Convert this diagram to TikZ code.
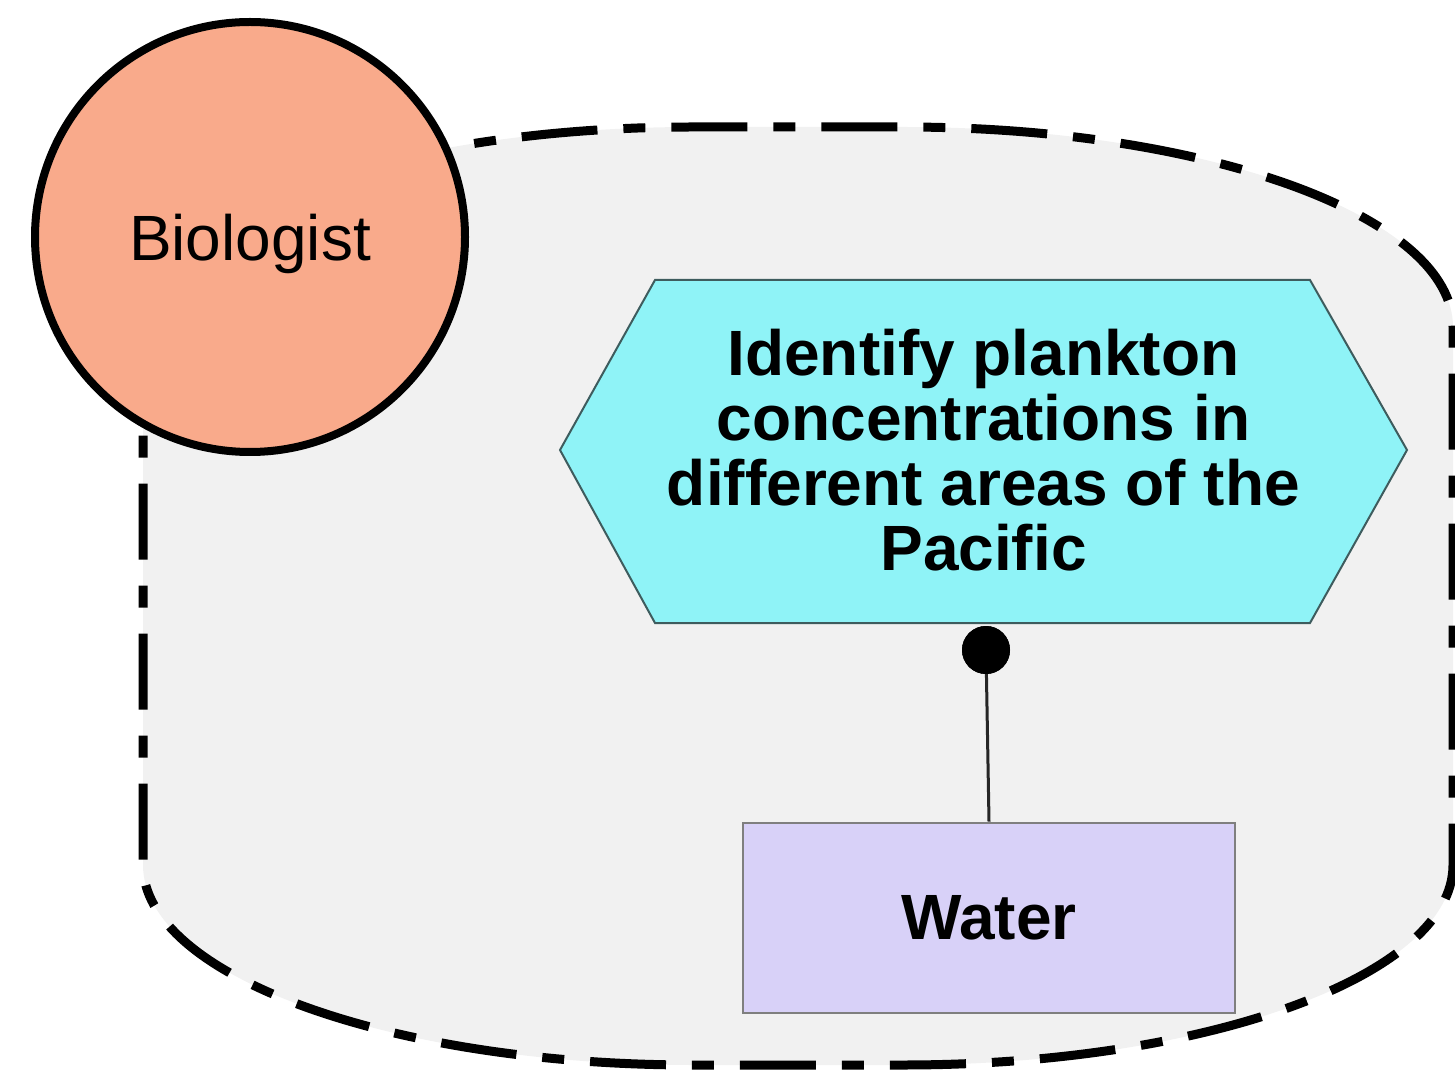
\documentclass[tikz,border=0pt]{standalone}
\usepackage{fontspec}
\setmainfont{Liberation Sans}
\definecolor{poolfill}{HTML}{F1F1F1}
\definecolor{rolefill}{HTML}{F9AA8B}
\definecolor{taskfill}{HTML}{8FF3F7}
\definecolor{taskline}{HTML}{3E5C5E}
\definecolor{itemfill}{HTML}{D8D1F8}
\definecolor{itemline}{HTML}{7F7F7F}
\begin{document}
\begin{tikzpicture}[x=0.5pt,y=0.5pt,
  pool/.style={draw=black, fill=poolfill, line width=4.5pt,
    dash pattern=on 38pt off 13pt on 11pt off 13pt},
  role/.style={circle, draw=black, fill=rolefill, line width=4pt,
    minimum size=215pt, inner sep=0pt, outer sep=0pt, text depth=0pt,
    font=\fontsize{32}{34}\selectfont},
  tasktext/.style={align=center, inner sep=0pt,
    font=\fontsize{32}{32.5}\selectfont\bfseries},
  hexa/.style={draw=taskline, fill=taskfill, line width=1pt, line join=miter},
  item/.style={rectangle, draw=itemline, fill=itemfill, line width=1.3pt,
    minimum width=246pt, minimum height=95pt, inner sep=0pt,
    font=\fontsize{32}{34}\selectfont\bfseries},
  joint/.style={circle, fill=black, minimum size=24pt, inner sep=0pt},
  link/.style={draw=black!85, line width=1.5pt}]
\useasboundingbox[clip] (0,0) rectangle (1455,1072);

% dashed lane with wide elliptic corners
\path[pool] (143,745) arc[start angle=180, end angle=90, x radius=275pt, y radius=100pt]
  -- (903,945) arc[start angle=90, end angle=0, x radius=275pt, y radius=100pt]
  -- (1453,207) arc[start angle=0, end angle=-90, x radius=275pt, y radius=100pt]
  -- (693,7) arc[start angle=270, end angle=180, x radius=275pt, y radius=100pt]
  -- cycle;

% role
\node[role] (bio) at (250,835) {Biologist};

% task hexagon
\coordinate (hexW) at (560,622);
\coordinate (hexE) at (1407,622);
\path[hexa] (hexW) -- (655,792) -- (1310,792) -- (hexE) -- (1310,449) -- (655,449) -- cycle;
\node[tasktext] (task) at (983.5,622) {Identify plankton\\concentrations in\\different areas of the\\Pacific};

% object and its link
\node[item] (water) at (989,154) {Water};
\node[joint] (dot) at (986,422) {};
\draw[link] (dot.center) -- (water.north);
\node[joint] at (dot) {};
\end{tikzpicture}
\end{document}
